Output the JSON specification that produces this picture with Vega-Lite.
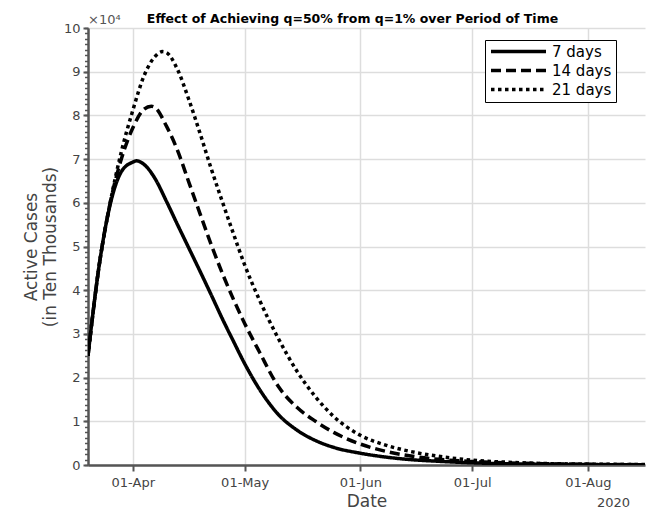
{
  "$schema": "https://vega.github.io/schema/vega-lite/v6.json",
  "width": 557,
  "height": 437,
  "autosize": {"type": "none"},
  "padding": {"left": 88, "top": 28, "right": 2, "bottom": 44},
  "background": "white",
  "config": {"font": "DejaVu Sans", "view": {"stroke": null}},
  "resolve": {"axis": {"y": "independent"}},
  "title": {
    "text": "Effect of Achieving q=50% from q=1% over Period of Time",
    "fontSize": 12.5,
    "fontWeight": "bold",
    "color": "black",
    "anchor": "middle",
    "dx": -14,
    "offset": -11
  },
  "layer": [
    {
      "data": {"values": [{"v": 0}, {"v": 10}]},
      "mark": {"type": "point", "opacity": 0},
      "encoding": {
        "y": {
          "field": "v",
          "type": "quantitative",
          "scale": {"domain": [0, 10], "nice": false},
          "axis": {
            "orient": "left",
            "values": [0, 0.125, 0.25, 0.375, 0.5, 0.625, 0.75, 0.875, 1, 1.125, 1.25, 1.375, 1.5, 1.625, 1.75, 1.875, 2, 2.125, 2.25, 2.375, 2.5, 2.625, 2.75, 2.875, 3, 3.125, 3.25, 3.375, 3.5, 3.625, 3.75, 3.875, 4, 4.125, 4.25, 4.375, 4.5, 4.625, 4.75, 4.875, 5, 5.125, 5.25, 5.375, 5.5, 5.625, 5.75, 5.875, 6, 6.125, 6.25, 6.375, 6.5, 6.625, 6.75, 6.875, 7, 7.125, 7.25, 7.375, 7.5, 7.625, 7.75, 7.875, 8, 8.125, 8.25, 8.375, 8.5, 8.625, 8.75, 8.875, 9, 9.125, 9.25, 9.375, 9.5, 9.625, 9.75, 9.875, 10],
            "labels": false,
            "domain": false,
            "grid": false,
            "title": null,
            "ticks": true,
            "tickSize": 3.5,
            "tickWidth": 1.5,
            "tickColor": "#555555"
          }
        }
      }
    },
    {
      "data": {
        "values": [
          {"date": "2020-03-20", "series": "7 days", "value": 2.5},
          {"date": "2020-03-23", "series": "7 days", "value": 4.57},
          {"date": "2020-03-26", "series": "7 days", "value": 5.98},
          {"date": "2020-03-29", "series": "7 days", "value": 6.72},
          {"date": "2020-04-01", "series": "7 days", "value": 6.93},
          {"date": "2020-04-02", "series": "7 days", "value": 6.96},
          {"date": "2020-04-04", "series": "7 days", "value": 6.88},
          {"date": "2020-04-07", "series": "7 days", "value": 6.55},
          {"date": "2020-04-10", "series": "7 days", "value": 6.04},
          {"date": "2020-04-13", "series": "7 days", "value": 5.5},
          {"date": "2020-04-16", "series": "7 days", "value": 4.97},
          {"date": "2020-04-19", "series": "7 days", "value": 4.44},
          {"date": "2020-04-22", "series": "7 days", "value": 3.9},
          {"date": "2020-04-25", "series": "7 days", "value": 3.35},
          {"date": "2020-04-28", "series": "7 days", "value": 2.83},
          {"date": "2020-05-01", "series": "7 days", "value": 2.32},
          {"date": "2020-05-05", "series": "7 days", "value": 1.73},
          {"date": "2020-05-10", "series": "7 days", "value": 1.16},
          {"date": "2020-05-15", "series": "7 days", "value": 0.8},
          {"date": "2020-05-20", "series": "7 days", "value": 0.56},
          {"date": "2020-05-25", "series": "7 days", "value": 0.4},
          {"date": "2020-06-01", "series": "7 days", "value": 0.27},
          {"date": "2020-06-08", "series": "7 days", "value": 0.18},
          {"date": "2020-06-15", "series": "7 days", "value": 0.12},
          {"date": "2020-06-22", "series": "7 days", "value": 0.085},
          {"date": "2020-07-01", "series": "7 days", "value": 0.05},
          {"date": "2020-07-10", "series": "7 days", "value": 0.03},
          {"date": "2020-07-20", "series": "7 days", "value": 0.018},
          {"date": "2020-08-01", "series": "7 days", "value": 0.01},
          {"date": "2020-08-17", "series": "7 days", "value": 0.005},
          {"date": "2020-03-20", "series": "14 days", "value": 2.5},
          {"date": "2020-03-23", "series": "14 days", "value": 4.57},
          {"date": "2020-03-26", "series": "14 days", "value": 6.02},
          {"date": "2020-03-29", "series": "14 days", "value": 7.02},
          {"date": "2020-04-01", "series": "14 days", "value": 7.71},
          {"date": "2020-04-04", "series": "14 days", "value": 8.14},
          {"date": "2020-04-06", "series": "14 days", "value": 8.21},
          {"date": "2020-04-07", "series": "14 days", "value": 8.18},
          {"date": "2020-04-10", "series": "14 days", "value": 7.76},
          {"date": "2020-04-13", "series": "14 days", "value": 7.2},
          {"date": "2020-04-16", "series": "14 days", "value": 6.48},
          {"date": "2020-04-19", "series": "14 days", "value": 5.76},
          {"date": "2020-04-22", "series": "14 days", "value": 5.05},
          {"date": "2020-04-25", "series": "14 days", "value": 4.39},
          {"date": "2020-04-28", "series": "14 days", "value": 3.79},
          {"date": "2020-05-01", "series": "14 days", "value": 3.24},
          {"date": "2020-05-05", "series": "14 days", "value": 2.58},
          {"date": "2020-05-10", "series": "14 days", "value": 1.8},
          {"date": "2020-05-15", "series": "14 days", "value": 1.32},
          {"date": "2020-05-20", "series": "14 days", "value": 1.0},
          {"date": "2020-05-25", "series": "14 days", "value": 0.74},
          {"date": "2020-06-01", "series": "14 days", "value": 0.48},
          {"date": "2020-06-08", "series": "14 days", "value": 0.31},
          {"date": "2020-06-15", "series": "14 days", "value": 0.2},
          {"date": "2020-06-22", "series": "14 days", "value": 0.13},
          {"date": "2020-07-01", "series": "14 days", "value": 0.08},
          {"date": "2020-07-10", "series": "14 days", "value": 0.05},
          {"date": "2020-07-20", "series": "14 days", "value": 0.03},
          {"date": "2020-08-01", "series": "14 days", "value": 0.015},
          {"date": "2020-08-17", "series": "14 days", "value": 0.008},
          {"date": "2020-03-20", "series": "21 days", "value": 2.5},
          {"date": "2020-03-23", "series": "21 days", "value": 4.57},
          {"date": "2020-03-26", "series": "21 days", "value": 6.02},
          {"date": "2020-03-29", "series": "21 days", "value": 7.19},
          {"date": "2020-04-01", "series": "21 days", "value": 8.11},
          {"date": "2020-04-04", "series": "21 days", "value": 8.9},
          {"date": "2020-04-07", "series": "21 days", "value": 9.35},
          {"date": "2020-04-09", "series": "21 days", "value": 9.46},
          {"date": "2020-04-10", "series": "21 days", "value": 9.44},
          {"date": "2020-04-13", "series": "21 days", "value": 9.05},
          {"date": "2020-04-16", "series": "21 days", "value": 8.37},
          {"date": "2020-04-19", "series": "21 days", "value": 7.6},
          {"date": "2020-04-22", "series": "21 days", "value": 6.79},
          {"date": "2020-04-25", "series": "21 days", "value": 6.03},
          {"date": "2020-04-28", "series": "21 days", "value": 5.29},
          {"date": "2020-05-01", "series": "21 days", "value": 4.58},
          {"date": "2020-05-05", "series": "21 days", "value": 3.77},
          {"date": "2020-05-10", "series": "21 days", "value": 2.9},
          {"date": "2020-05-15", "series": "21 days", "value": 2.15},
          {"date": "2020-05-20", "series": "21 days", "value": 1.56},
          {"date": "2020-05-25", "series": "21 days", "value": 1.1},
          {"date": "2020-06-01", "series": "21 days", "value": 0.68},
          {"date": "2020-06-08", "series": "21 days", "value": 0.45},
          {"date": "2020-06-15", "series": "21 days", "value": 0.3},
          {"date": "2020-06-22", "series": "21 days", "value": 0.2},
          {"date": "2020-07-01", "series": "21 days", "value": 0.11},
          {"date": "2020-07-10", "series": "21 days", "value": 0.065},
          {"date": "2020-07-20", "series": "21 days", "value": 0.035},
          {"date": "2020-08-01", "series": "21 days", "value": 0.02},
          {"date": "2020-08-17", "series": "21 days", "value": 0.01}
        ]
      },
      "mark": {"type": "line", "interpolate": "monotone", "strokeWidth": 3.5, "color": "black", "strokeCap": "butt", "clip": true},
      "encoding": {
        "x": {
          "field": "date",
          "type": "temporal",
          "scale": {
            "type": "utc",
            "domain": [
              {"year": 2020, "month": 3, "date": 20, "utc": true},
              {"year": 2020, "month": 8, "date": 16, "hours": 8, "utc": true}
            ]
          },
          "axis": {
            "values": [
              {"year": 2020, "month": 4, "date": 1, "utc": true},
              {"year": 2020, "month": 5, "date": 1, "utc": true},
              {"year": 2020, "month": 6, "date": 1, "utc": true},
              {"year": 2020, "month": 7, "date": 1, "utc": true},
              {"year": 2020, "month": 8, "date": 1, "utc": true}
            ],
            "labelExpr": "utcFormat(datum.value, '%d-%b')",
            "title": "Date",
            "titleFontSize": 17,
            "titleFontWeight": "normal",
            "titleColor": "#444444",
            "titlePadding": 4,
            "labelFontSize": 13,
            "labelColor": "#444444",
            "labelPadding": 5,
            "labelFlush": false,
            "tickSize": 6,
            "tickWidth": 2,
            "tickColor": "#555555",
            "domainColor": "#555555",
            "domainWidth": 2.5,
            "grid": true,
            "gridColor": "#dddddd",
            "gridWidth": 1.5
          }
        },
        "y": {
          "field": "value",
          "type": "quantitative",
          "scale": {"domain": [0, 10], "nice": false},
          "axis": {
            "orient": "left",
            "values": [0, 1, 2, 3, 4, 5, 6, 7, 8, 9, 10],
            "format": "d",
            "tickSize": 5,
            "title": ["Active Cases", "(in Ten Thousands)"],
            "titleFontSize": 17,
            "titleFontWeight": "normal",
            "titleColor": "#444444",
            "titleLineHeight": 19,
            "titlePadding": 4,
            "labelFontSize": 13,
            "labelColor": "#444444",
            "labelPadding": 3,
            "tickWidth": 2,
            "tickColor": "#555555",
            "domainColor": "#555555",
            "domainWidth": 2.5,
            "grid": true,
            "gridColor": "#dddddd",
            "gridWidth": 1.5
          }
        },
        "strokeDash": {
          "field": "series",
          "type": "nominal",
          "scale": {
            "domain": ["7 days", "14 days", "21 days"],
            "range": [[1, 0], [10, 5], [3.5, 3.5]]
          },
          "legend": {
            "title": null,
            "orient": "none",
            "legendX": 397,
            "legendY": 12,
            "symbolType": "M-5,0H5",
            "symbolSize": 121,
            "symbolOffset": 22,
            "symbolStrokeWidth": 3.5,
            "symbolStrokeColor": "black",
            "symbolFillColor": "transparent",
            "labelFontSize": 15,
            "labelColor": "black",
            "labelOffset": 26,
            "strokeColor": "black",
            "fillColor": "white",
            "padding": 4,
            "rowPadding": 3
          }
        }
      }
    },
    {
      "data": {"values": [{}]},
      "mark": {"type": "text", "text": "×10⁴", "align": "left", "baseline": "alphabetic", "dy": -4, "fontSize": 13, "color": "#555555"},
      "encoding": {
        "x": {"datum": {"year": 2020, "month": 3, "date": 20, "utc": true}, "type": "temporal"},
        "y": {"datum": 10, "type": "quantitative", "axis": null}
      }
    },
    {
      "data": {"values": [{}]},
      "mark": {"type": "text", "text": "2020", "align": "right", "baseline": "alphabetic", "dy": 42, "fontSize": 13, "color": "#444444"},
      "encoding": {
        "x": {"datum": {"year": 2020, "month": 8, "date": 12, "hours": 8, "utc": true}, "type": "temporal"},
        "y": {"datum": 0, "type": "quantitative", "axis": null}
      }
    }
  ]
}
